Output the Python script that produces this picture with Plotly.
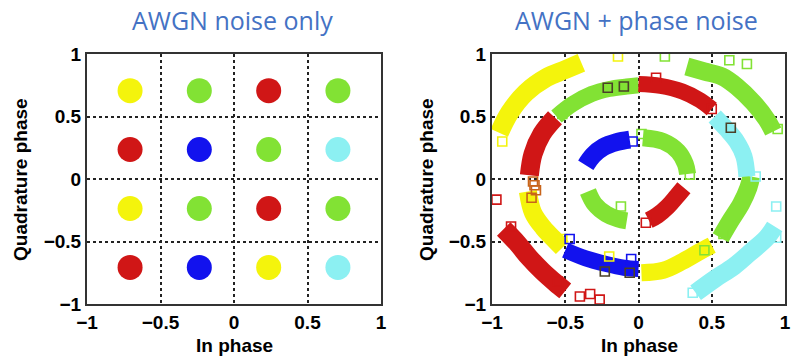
import plotly.graph_objects as go

# ---------------- data ----------------
# Left panel: 16-QAM cluster centres (AWGN only)
left_x = [-0.707, -0.236, 0.236, 0.707,
          -0.707, -0.236, 0.236, 0.707,
          -0.707, -0.236, 0.236, 0.707,
          -0.707, -0.236, 0.236, 0.707]
left_y = [0.707, 0.707, 0.707, 0.707,
          0.236, 0.236, 0.236, 0.236,
          -0.236, -0.236, -0.236, -0.236,
          -0.707, -0.707, -0.707, -0.707]
left_c = ["yellow", "green", "red", "green",
          "red", "blue", "green", "cyan",
          "yellow", "green", "red", "green",
          "red", "blue", "yellow", "cyan"]

# Right panel: arcs (centre lines)
yel_outer_x = [-0.95, -0.88, -0.77, -0.63, -0.50, -0.39]
yel_outer_y = [0.37, 0.53, 0.69, 0.81, 0.875, 0.93]
grn_outer_x = [0.33, 0.45, 0.57, 0.67, 0.785, 0.875, 0.92]
grn_outer_y = [0.90, 0.86, 0.82, 0.74, 0.61, 0.475, 0.38]
red_outer_x = [-0.92, -0.83, -0.745, -0.656, -0.566, -0.50]
red_outer_y = [-0.40, -0.51, -0.63, -0.738, -0.832, -0.895]
cyn_outer_x = [0.39, 0.52, 0.65, 0.76, 0.875, 0.93]
cyn_outer_y = [-0.91, -0.80, -0.70, -0.59, -0.47, -0.38]

grn_mid_top_x = [-0.56, -0.45, -0.32, -0.20, -0.08, 0.0]
grn_mid_top_y = [0.50, 0.60, 0.68, 0.72, 0.74, 0.75]
red_mid_top_x = [0.0, 0.15, 0.30, 0.42, 0.50]
red_mid_top_y = [0.76, 0.745, 0.70, 0.63, 0.56]
red_mid_left_x = [-0.57, -0.66, -0.72, -0.745]
red_mid_left_y = [0.49, 0.36, 0.20, 0.03]
yel_mid_left_x = [-0.755, -0.72, -0.65, -0.57, -0.52]
yel_mid_left_y = [-0.10, -0.27, -0.39, -0.49, -0.55]
blu_mid_bot_x = [-0.50, -0.36, -0.22, -0.10, 0.0]
blu_mid_bot_y = [-0.57, -0.635, -0.68, -0.71, -0.72]
yel_mid_bot_x = [0.02, 0.17, 0.30, 0.42, 0.50]
yel_mid_bot_y = [-0.75, -0.73, -0.66, -0.58, -0.53]
grn_mid_right_x = [0.56, 0.63, 0.70, 0.75, 0.77]
grn_mid_right_y = [-0.47, -0.33, -0.20, -0.07, 0.02]
cyn_mid_right_x = [0.52, 0.60, 0.67, 0.72, 0.74]
cyn_mid_right_y = [0.50, 0.40, 0.30, 0.18, 0.02]

blu_in_x = [-0.36, -0.31, -0.24, -0.15, -0.06]
blu_in_y = [0.11, 0.19, 0.255, 0.295, 0.315]
grn_in_a_x = [0.03, 0.17, 0.27, 0.32, 0.335]
grn_in_a_y = [0.33, 0.30, 0.22, 0.12, 0.04]
grn_in_b_x = [-0.345, -0.30, -0.22, -0.14, -0.08]
grn_in_b_y = [-0.10, -0.20, -0.28, -0.32, -0.335]
red_in_x = [0.07, 0.13, 0.20, 0.26, 0.31]
red_in_y = [-0.33, -0.29, -0.22, -0.14, -0.07]

# stray open squares
out_yel_x = [-0.14, -0.93, -0.52, -0.20]
out_yel_y = [0.98, 0.30, -0.48, -0.62]
out_grn_x = [0.18, 0.35, 0.58, 0.95, 0.02, -0.52, -0.12, 0.45, 0.62, 0.74]
out_grn_y = [0.98, 0.035, -0.44, 0.40, 0.36, 0.52, -0.22, -0.57, 0.95, 0.92]
out_red_x = [-0.97, -0.40, -0.265, -0.33, 0.05, 0.12, 0.50, -0.87, -0.55]
out_red_y = [-0.165, -0.94, -0.965, -0.92, -0.35, 0.81, 0.56, -0.38, -0.82]
out_blu_x = [-0.04, -0.05, -0.47]
out_blu_y = [0.30, -0.64, -0.48]
out_cyn_x = [0.94, 0.37, 0.94, 0.80]
out_cyn_y = [-0.22, -0.91, -0.47, 0.02]
out_drk_x = [-0.21, 0.63, -0.23, -0.06, -0.10]
out_drk_y = [0.73, 0.41, -0.74, -0.75, 0.74]
out_org_x = [-0.72, -0.70, -0.73, -0.71]
out_org_y = [-0.02, -0.09, -0.15, -0.05]

tick_vals = [-1, -0.5, 0, 0.5, 1]
tick_text = ["\u22121", "\u22120.5", "0", "0.5", "1"]

# ---------------- styling ----------------
COL = {"yellow": "#F4F40C", "green": "#82E234", "red": "#D01616",
       "blue": "#1212EE", "cyan": "#8CF0F2", "dark": "#4A4028",
       "orange": "#C8641A"}

W, H = 792, 360


def fx(sx):
    return sx / W


def fy(sy):
    return 1 - sy / H


fig = go.Figure()

# left panel clusters
fig.add_trace(go.Scatter(
    x=left_x, y=left_y, mode="markers", xaxis="x", yaxis="y",
    marker=dict(symbol="circle", size=25, color=[COL[c] for c in left_c],
                line=dict(width=0)),
    showlegend=False, hoverinfo="skip"))

arcs = [
    (yel_outer_x, yel_outer_y, "yellow", 19),
    (grn_outer_x, grn_outer_y, "green", 18),
    (red_outer_x, red_outer_y, "red", 19),
    (cyn_outer_x, cyn_outer_y, "cyan", 18),
    (grn_mid_top_x, grn_mid_top_y, "green", 16),
    (red_mid_top_x, red_mid_top_y, "red", 16),
    (red_mid_left_x, red_mid_left_y, "red", 19),
    (yel_mid_left_x, yel_mid_left_y, "yellow", 18),
    (blu_mid_bot_x, blu_mid_bot_y, "blue", 16),
    (yel_mid_bot_x, yel_mid_bot_y, "yellow", 17),
    (grn_mid_right_x, grn_mid_right_y, "green", 18),
    (cyn_mid_right_x, cyn_mid_right_y, "cyan", 17),
    (blu_in_x, blu_in_y, "blue", 18),
    (grn_in_a_x, grn_in_a_y, "green", 17),
    (grn_in_b_x, grn_in_b_y, "green", 17),
    (red_in_x, red_in_y, "red", 17),
]
for ax_, ay_, c, w in arcs:
    fig.add_trace(go.Scatter(
        x=ax_, y=ay_, mode="lines", xaxis="x2", yaxis="y2",
        line=dict(color=COL[c], width=w, shape="spline"),
        showlegend=False, hoverinfo="skip"))

outs = [(out_yel_x, out_yel_y, "yellow"), (out_grn_x, out_grn_y, "green"),
        (out_red_x, out_red_y, "red"), (out_blu_x, out_blu_y, "blue"),
        (out_cyn_x, out_cyn_y, "cyan"), (out_drk_x, out_drk_y, "dark"),
        (out_org_x, out_org_y, "orange")]
for ox, oy, c in outs:
    fig.add_trace(go.Scatter(
        x=ox, y=oy, mode="markers", xaxis="x2", yaxis="y2",
        marker=dict(symbol="square-open", size=9, color=COL[c],
                    line=dict(width=1.6, color=COL[c])),
        showlegend=False, hoverinfo="skip"))

tickfont = dict(family="Liberation Sans, Arial, sans-serif", size=19,
                color="black", weight="bold")
axis_common = dict(range=[-1, 1], tickvals=tick_vals, ticktext=tick_text,
                   showgrid=True, gridcolor="#222222", griddash="dot",
                   gridwidth=1.5, zeroline=False, showline=True,
                   mirror=True, linecolor="#333333", linewidth=2,
                   ticks="", tickfont=tickfont, fixedrange=True,
                   automargin=False)

yd = [fy(304), fy(54)]
fig.update_layout(
    width=W, height=H,
    margin=dict(l=0, r=0, t=0, b=0, autoexpand=False),
    paper_bgcolor="white", plot_bgcolor="white",
    xaxis=dict(domain=[fx(87), fx(381)], anchor="y", **axis_common),
    yaxis=dict(domain=yd, anchor="x", **axis_common),
    xaxis2=dict(domain=[fx(492), fx(785)], anchor="y2", **axis_common),
    yaxis2=dict(domain=yd, anchor="x2", **axis_common),
)

titlefont = dict(family="Open Sans, sans-serif", size=25, color="#4472C4")
labfont = dict(family="Liberation Sans, Arial, sans-serif", size=19,
               color="black", weight="bold")
ann = [
    dict(text="AWGN noise only", x=fx(233), y=fy(20), font=titlefont),
    dict(text="AWGN + phase noise", x=fx(636), y=fy(20), font=titlefont),
    dict(text="In phase", x=fx(234), y=fy(345), font=labfont),
    dict(text="In phase", x=fx(639), y=fy(345), font=labfont),
    dict(text="Quadrature phase", x=fx(20), y=fy(180), font=labfont,
         textangle=-90),
    dict(text="Quadrature phase", x=fx(426), y=fy(180), font=labfont,
         textangle=-90),
]
for a in ann:
    fig.add_annotation(xref="paper", yref="paper", showarrow=False,
                       xanchor="center", yanchor="middle", **a)

# remove the browser's default 8px body margin so the figure sits at (0,0)
fig.write_html("out.html",
               config={"displayModeBar": False},
               post_script="document.body.style.margin='0';"
                           "document.body.style.overflow='hidden';")
